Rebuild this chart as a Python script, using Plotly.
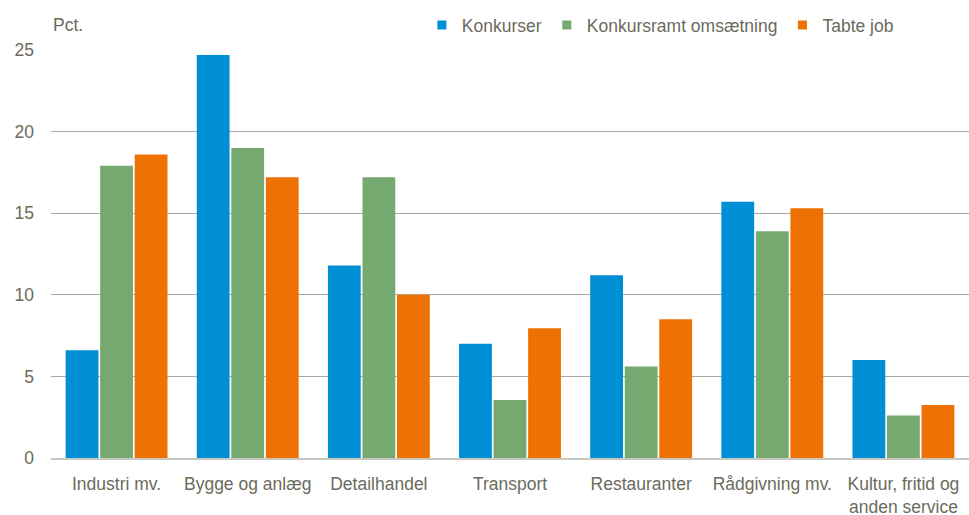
import plotly.graph_objects as go

categories = ["Industri mv.", "Bygge og anlæg", "Detailhandel", "Transport",
              "Restauranter", "Rådgivning mv.", "Kultur, fritid og<br>anden service"]
konkurser = [6.6, 24.7, 11.8, 7.0, 11.2, 15.7, 6.0]
omsaetning = [17.9, 19.0, 17.2, 3.55, 5.6, 13.9, 2.6]
tabte_job = [18.6, 17.2, 10.0, 7.95, 8.5, 15.3, 3.25]
y_ticks = [0, 5, 10, 15, 20, 25]

font_family = "Liberation Sans, Arial, sans-serif"
text_color = "#6b6b5c"
fs = 17.5

series = [("Konkurser", konkurser, "#008fd5"),
          ("Konkursramt omsætning", omsaetning, "#76a96f"),
          ("Tabte job", tabte_job, "#ee7203")]

fig = go.Figure()
for name, vals, color in series:
    fig.add_trace(go.Bar(x=categories, y=vals, name=name, marker_color=color,
                         marker_line_width=0, showlegend=False, legendgroup=name))
for name, vals, color in series:
    fig.add_trace(go.Scatter(x=[None], y=[None], mode="markers", name=name,
                             legendgroup=name,
                             marker=dict(symbol="square", size=9, color=color)))

fig.update_layout(
    width=969, height=515,
    margin=dict(l=51, r=0, t=50, b=57),
    paper_bgcolor="white", plot_bgcolor="white",
    barmode="group", bargap=0.21, bargroupgap=0.05,
    font=dict(family=font_family, size=fs, color=text_color),
    legend=dict(orientation="h", x=0.404, y=1.061, xanchor="left", yanchor="middle",
                font=dict(size=fs, color=text_color), itemwidth=30,
                traceorder="normal", bgcolor="rgba(0,0,0,0)"),
    showlegend=True,
    xaxis=dict(showgrid=False, showline=True, linecolor="#c8c8c0", linewidth=1.5,
               tickfont=dict(size=fs, color=text_color), ticks="",
               ticklabelstandoff=9, automargin=False),
    yaxis=dict(range=[0, 25], tickvals=y_ticks, showgrid=True, gridcolor="#a9a99c",
               gridwidth=1, zeroline=False, showline=False, ticks="",
               ticklabelstandoff=16, automargin=False,
               tickfont=dict(size=fs, color=text_color)),
    annotations=[dict(text="Pct.", xref="paper", yref="paper", x=0.0, y=1.061,
                      xanchor="left", yanchor="middle", showarrow=False,
                      font=dict(size=fs, color=text_color))],
)

fig.write_html("out.html", config={"displayModeBar": False},
               post_script="document.body.style.margin='0px';")
